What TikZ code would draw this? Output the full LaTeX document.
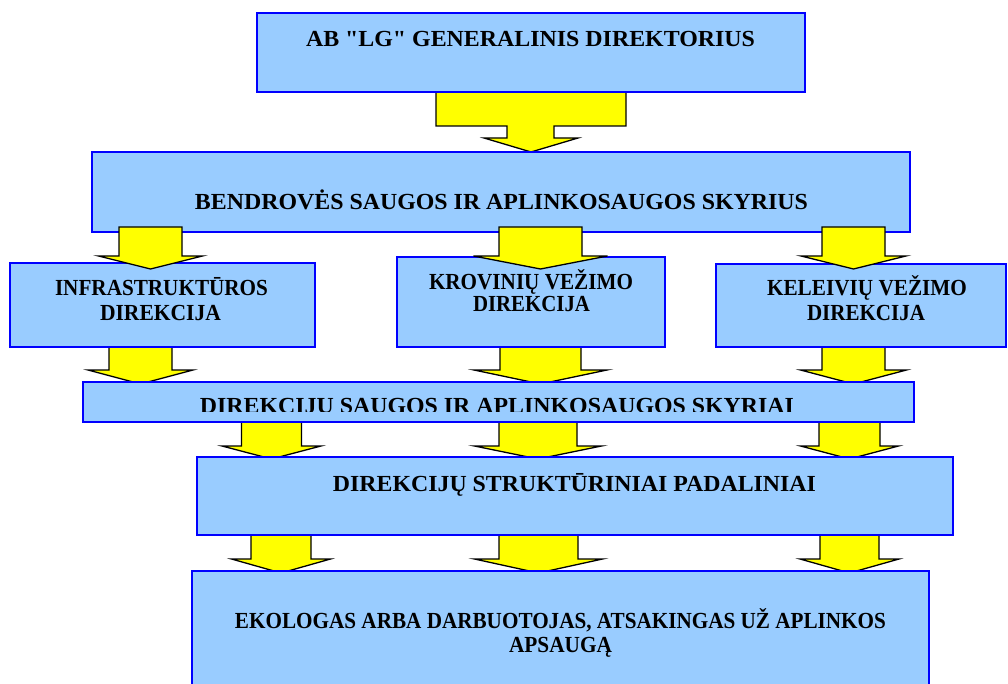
\documentclass[tikz,border=0pt]{standalone}
\usepackage{fontspec}
\setmainfont{Liberation Serif}
\usepackage{graphicx}
\usetikzlibrary{calc,backgrounds}
\definecolor{boxblue}{HTML}{99CCFF}
\definecolor{edgeblue}{HTML}{0000FF}
\definecolor{arrowyellow}{HTML}{FFFF00}
\pgfdeclarelayer{behind}
\pgfsetlayers{behind,main}
% text squeezed to a given width, height kept
\newcommand{\fitw}[2]{\resizebox{#1}{\height}{#2}}
% block arrow: from, to, x centre, body half, head half, top overlap, tip depth, head length
\newcommand{\blockarrow}[8]{%
  \draw[barrow] let \p1=(#1.south), \p2=(#2.north) in
    (#3-#4,\y1+#6) -- (#3+#4,\y1+#6) -- (#3+#4,\y2-#7+#8) -- (#3+#5,\y2-#7+#8)
    -- (#3,\y2-#7) -- (#3-#5,\y2-#7+#8) -- (#3-#4,\y2-#7+#8) -- cycle;}

\begin{document}
\begin{tikzpicture}[x=1pt, y=-1pt,
    box/.style={rectangle, draw=edgeblue, line width=2pt, fill=boxblue, outer sep=0pt, inner sep=0pt},
    lbl/.style={anchor=base, inner sep=0pt, font=\fontsize{23}{26}\selectfont\bfseries},
    barrow/.style={draw=black, line width=1.3pt, fill=arrowyellow, line join=miter}]
        \useasboundingbox (0,0) rectangle (1008,684);

        % Director
        \node[box, minimum width=548pt, minimum height=79pt] (gd) at (531,52.5) {};
        % Company department
        \node[box, minimum width=818pt, minimum height=80pt] (bsa) at (501,192) {};
        % Directorates
        \node[box, minimum width=305pt, minimum height=84pt] (infra) at (162.5,305) {};
        \node[box, minimum width=268pt, minimum height=90pt] (krov) at (531,302) {};
        \node[box, minimum width=290pt, minimum height=83pt] (kel) at (861,305.5) {};
        % Directorate departments
        \node[box, minimum width=831pt, minimum height=40pt] (dsa) at (498.5,402) {};
        % Structural units
        \node[box, minimum width=756pt, minimum height=78pt] (dsp) at (575,496) {};
        % Ecologist
        \node[box, minimum width=737pt, minimum height=149pt] (eko) at (560.5,645.5) {};

        % Arrows under the boxes
        \begin{pgfonlayer}{behind}
          \draw[barrow] let \p1=(gd.south), \p2=(bsa.north) in
            (436,\y1) -- (626,\y1) -- (626,\y2+26) -- (554,\y2+26) -- (554,\y2+14)
            -- (578,\y2+14) -- (531,\y2) -- (484,\y2+14) -- (507,\y2+14)
            -- (507,\y2+26) -- (436,\y2+26) -- cycle;
          \blockarrow{infra}{dsa}{140.5}{31.5}{52.5}{0}{2}{14}
          \blockarrow{krov}{dsa}{540.5}{40.5}{66.5}{0}{2}{14}
          \blockarrow{kel}{dsa}{853.5}{31.5}{53}{0}{2}{14}
          \blockarrow{dsa}{dsp}{271.5}{30}{49.5}{0}{2}{13}
          \blockarrow{dsa}{dsp}{538}{39}{63.5}{0}{2}{13}
          \blockarrow{dsa}{dsp}{849.5}{30.5}{49}{0}{2}{13}
          \blockarrow{dsp}{eko}{281}{30}{49.5}{0}{2}{14}
          \blockarrow{dsp}{eko}{538.5}{39.5}{64}{0}{2}{14}
          \blockarrow{dsp}{eko}{849.5}{29.5}{49.5}{0}{2}{14}
        \end{pgfonlayer}

        % Arrows over the boxes
        \blockarrow{bsa}{infra}{150.5}{31.5}{52}{5}{6}{13}
        \blockarrow{bsa}{krov}{540.5}{41.5}{67}{5}{12}{13}
        \blockarrow{bsa}{kel}{853.5}{31.5}{52.5}{5}{5}{13}

        % Texts
        \node[lbl] (gdtxt) at (530.5,47) {\fitw{449pt}{AB \textquotedbl LG\textquotedbl{} GENERALINIS DIREKTORIUS}};
        \node[lbl] (bsatxt) at (501.5,210) {\fitw{613pt}{BENDROVĖS SAUGOS IR APLINKOSAUGOS SKYRIUS}};
        \node[lbl] (infratxt) at (161.5,295) {\fitw{213pt}{INFRASTRUKTŪROS}};
        \node[lbl] (infratxtb) at (160.5,320) {\fitw{121pt}{DIREKCIJA}};
        \node[lbl] (krovtxt) at (531,289) {\fitw{204pt}{KROVINIŲ VEŽIMO}};
        \node[lbl] (krovtxtb) at (531.5,312) {\fitw{117pt}{DIREKCIJA}};
        \node[lbl] (keltxt) at (867,295) {\fitw{200pt}{KELEIVIŲ VEŽIMO}};
        \node[lbl] (keltxtb) at (866,320) {\fitw{118pt}{DIREKCIJA}};
        \begin{scope}
          \clip (dsa.north west) rectangle ([yshift=10.5pt]dsa.south east);
          \node[lbl] (dsatxt) at (497,413.5) {\fitw{594pt}{DIREKCIJŲ SAUGOS IR APLINKOSAUGOS SKYRIAI}};
        \end{scope}
        \node[lbl] (dsptxt) at (574.5,491) {\fitw{483pt}{DIREKCIJŲ STRUKTŪRINIAI PADALINIAI}};
        \node[lbl] (ekotxt) at (560.5,628) {\fitw{651pt}{EKOLOGAS ARBA DARBUOTOJAS, ATSAKINGAS UŽ APLINKOS}};
        \node[lbl] (ekotxtb) at (560.5,652) {\fitw{103pt}{APSAUGĄ}};

      \end{tikzpicture}
\end{document}
